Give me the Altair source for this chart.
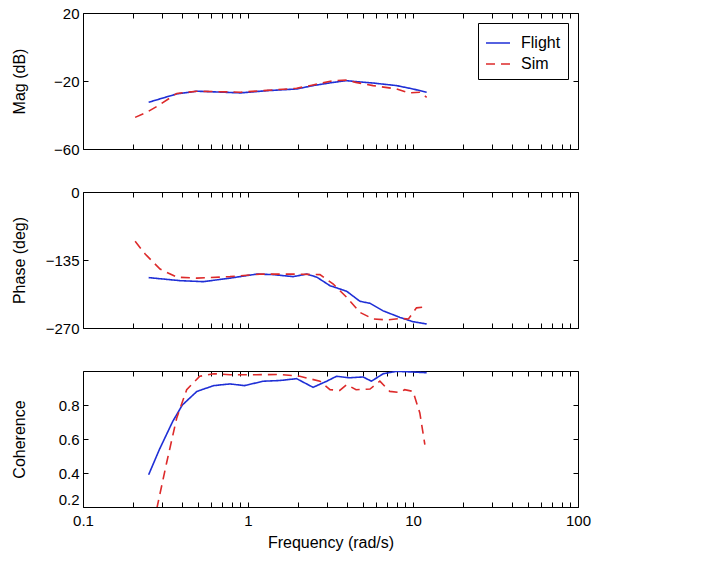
import altair as alt
import pandas as pd

# ---------------- data ----------------
mag_flight_x = [0.25, 0.37, 0.49, 0.9, 1.3, 1.97, 2.48, 3.29, 3.96, 4.35, 5.73, 7.96, 10, 12.1]
mag_flight_y = [-32.5, -27.6, -26, -27, -25.7, -24.7, -22.7, -20.8, -19.8, -20.2, -21.2, -22.7, -24.7, -26.6]
mag_sim_x = [0.207, 0.243, 0.286, 0.37, 0.49, 0.9, 1.3, 1.97, 2.48, 3.29, 3.96, 4.5, 5.73, 7.96, 9.38, 11.0, 12.1]
mag_sim_y = [-41.4, -38.4, -34.5, -27.3, -26, -26.6, -25.5, -24.3, -22.3, -19.8, -19.5, -20.8, -22.7, -24.7, -27, -26.6, -29.6]

ph_flight_x = [0.25, 0.387, 0.536, 0.778, 1.13, 1.42, 1.88, 2.27, 2.61, 3.14, 3.96, 4.77, 5.49, 6.6, 8.34, 10, 12.1]
ph_flight_y = [-170, -176, -178, -171, -163, -164, -168, -163, -169, -186, -197, -217, -221, -236, -249, -257.5, -262]
ph_sim_x = [0.207, 0.238, 0.293, 0.37, 0.49, 0.778, 1.18, 1.88, 2.73, 3.29, 3.96, 4.77, 5.73, 6.92, 8.34, 9.38, 10.5, 12.1]
ph_sim_y = [-98, -123, -153, -169, -171, -168, -163, -163, -164, -183, -209, -239, -252, -254, -251, -252, -230, -228]

coh_flight_x = [0.25, 0.29, 0.35, 0.40, 0.49, 0.62, 0.778, 0.95, 1.24, 1.56, 1.97, 2.48, 3.0, 3.44, 4.1, 4.98, 5.6, 6.6, 7.96, 10, 12.1]
coh_flight_y = [0.39, 0.537, 0.704, 0.80, 0.88, 0.914, 0.924, 0.914, 0.94, 0.944, 0.955, 0.904, 0.94, 0.969, 0.96, 0.965, 0.94, 0.984, 0.998, 0.994, 0.99]
coh_sim_x = [0.28, 0.321, 0.37, 0.425, 0.51, 0.62, 0.778, 1.13, 1.56, 2.06, 2.73, 3.14, 3.6, 3.96, 4.52, 5.49, 6.3, 7.23, 8.34, 8.9, 10, 11.0, 11.8]
coh_sim_y = [0.19, 0.459, 0.724, 0.89, 0.969, 0.984, 0.978, 0.978, 0.98, 0.969, 0.94, 0.89, 0.886, 0.92, 0.89, 0.894, 0.94, 0.88, 0.874, 0.89, 0.88, 0.753, 0.567]

series_names = ["Flight", "Sim"]
series_colors = ["#1f2fd6", "#dd2a2a"]
x_ticks = [0.1, 0.2, 0.3, 0.4, 0.5, 0.6, 0.7, 0.8, 0.9,
           1, 2, 3, 4, 5, 6, 7, 8, 9,
           10, 20, 30, 40, 50, 60, 70, 80, 90, 100]

FONT = "Liberation Sans"
W, H = 495, 136
TICK = 5


def frame_df(fx, fy, sx, sy):
    rows = [{"x": a, "y": b, "series": "Flight"} for a, b in zip(fx, fy)]
    rows += [{"x": a, "y": b, "series": "Sim"} for a, b in zip(sx, sy)]
    return pd.DataFrame(rows)


label_expr = ("abs(log(datum.value)/LN10 - round(log(datum.value)/LN10)) < 1e-6 "
              "? format(datum.value, '~g') : ''")


def panel(df, ytitle, ydomain, yvalues, yfmt, bottom, legend, flush=False):
    xscale = alt.Scale(type="log", domain=[0.1, 100], nice=False)
    yscale = alt.Scale(domain=ydomain, nice=False, zero=False)

    x_axis_kw = dict(values=x_ticks, tickSize=TICK, offset=-TICK, domain=False, grid=False,
                     labelFlush=False, labelOverlap=False, tickColor="black", minExtent=0)
    if bottom:
        x_axis = alt.Axis(labelExpr=label_expr, labelPadding=6, title="Frequency (rad/s)",
                          titlePadding=6, **x_axis_kw)
    else:
        x_axis = alt.Axis(labels=False, title=None, maxExtent=0, **x_axis_kw)

    y_label_expr = "replace(format(datum.value, '" + yfmt + "'), '-', '\u2212')"
    y_axis = alt.Axis(values=yvalues, labelExpr=y_label_expr, tickSize=TICK, offset=-TICK,
                      domain=False, grid=False, labelFlush=flush, labelPadding=4, title=ytitle,
                      titleX=-61, titleY=H / 2, titleAnchor="middle", titleBaseline="bottom",
                      tickColor="black")

    if legend:
        leg = alt.Legend(orient="top-right", title=None, symbolType="stroke", symbolSize=576,
                         symbolStrokeWidth=1.6, labelFontSize=16, labelFont=FONT,
                         labelColor="black", strokeColor="black", fillColor="white",
                         padding=7, rowPadding=0, labelOffset=10, offset=10)
    else:
        leg = None

    lines = alt.Chart(df).mark_line(strokeWidth=1.6, clip=True).encode(
        x=alt.X("x:Q", scale=xscale, axis=x_axis),
        y=alt.Y("y:Q", scale=yscale, axis=y_axis),
        color=alt.Color("series:N", scale=alt.Scale(domain=series_names, range=series_colors),
                        legend=leg),
        strokeDash=alt.StrokeDash("series:N",
                                  scale=alt.Scale(domain=series_names, range=[[1, 0], [9, 6]]),
                                  legend=leg),
        detail="series:N",
    )

    frame = alt.Chart(df).mark_point(opacity=0).encode(
        x=alt.X("x:Q", scale=xscale,
                axis=alt.Axis(orient="top", values=x_ticks, labels=False, title=None,
                              tickSize=TICK, offset=-TICK, domain=False, grid=False,
                              tickColor="black", minExtent=0, maxExtent=0)),
        y=alt.Y("y:Q", scale=yscale,
                axis=alt.Axis(orient="right", values=yvalues, labels=False, title=None,
                              tickSize=TICK, offset=-TICK, domain=False, grid=False,
                              tickColor="black", minExtent=0, maxExtent=0)),
    )

    return alt.layer(frame, lines).resolve_axis(x="independent", y="independent").properties(
        width=W, height=H)


p1 = panel(frame_df(mag_flight_x, mag_flight_y, mag_sim_x, mag_sim_y),
           "Mag (dB)", [-60, 20], [-60, -20, 20], "d", False, True)
p2 = panel(frame_df(ph_flight_x, ph_flight_y, ph_sim_x, ph_sim_y),
           "Phase (deg)", [-270, 0], [-270, -135, 0], "d", False, False)
p3 = panel(frame_df(coh_flight_x, coh_flight_y, coh_sim_x, coh_sim_y),
           "Coherence", [0.2, 1.0], [0.2, 0.4, 0.6, 0.8], ".1f", True, False, flush=True)

chart = alt.vconcat(p1, p2, p3, spacing=43, bounds="flush").resolve_scale(
    color="independent", strokeDash="independent"
).properties(
    padding={"left": 10, "top": 5, "right": 5, "bottom": 5},
    background="white",
).configure_view(
    stroke="black", strokeWidth=1
).configure_axis(
    labelFont=FONT, titleFont=FONT, labelFontSize=15, titleFontSize=16,
    labelColor="black", titleColor="black", titleFontWeight="normal", tickWidth=1
)

chart.save("out.html", embed_options={"renderer": "svg", "actions": False})
